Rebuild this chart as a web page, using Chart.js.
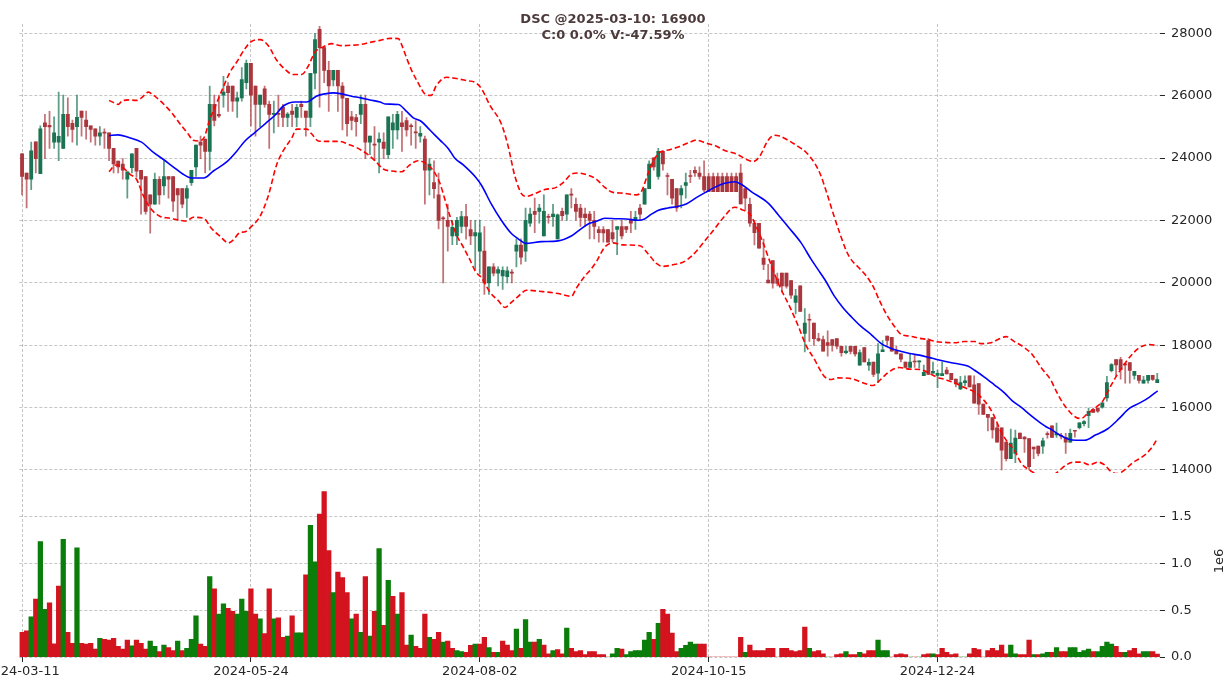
<!DOCTYPE html>
<html><head><meta charset="utf-8">
<script src="https://cdn.jsdelivr.net/npm/chart.js@4.4.1/dist/chart.umd.min.js"></script>
<style>html,body{margin:0;padding:0;background:#fff;overflow:hidden}#wrap{position:relative;width:1226px;height:690px}</style>
</head><body><div id="wrap"><canvas id="c" width="1226" height="690"></canvas></div>
<script>
const ticker = 'DSC';
const lastDate = '2025-03-10';
const tickIndex = [0, 50, 100, 150, 200];
const tickLabels = ['2024-03-11', '2024-05-24', '2024-08-02', '2024-10-15', '2024-12-24'];
const priceTicks = [14000, 16000, 18000, 20000, 22000, 24000, 26000, 28000];
const volumeTicks = [0, 500000, 1000000, 1500000];
const volumeUnitLabel = '1e6';

const opens = [24140,23520,23320,24520,23500,25127,25050,24510,24510,24310,
25404,25115,25010,25510,25220,25035,24940,24705,24830,24810,
24310,23900,23810,23320,23690,24310,23610,23410,22820,22520,
23320,23110,23410,23410,23020,23020,22715,23215,23720,24510,
24610,24215,25720,25400,26020,26313,26313,25825,25930,26420,
27040,26313,25720,26220,25720,25400,25430,25630,25300,25510,
25300,25720,25510,25300,26720,28130,27540,26815,26510,26815,
26313,25920,25325,25300,25404,25720,24510,24430,24510,24510,
24110,24900,24900,25127,25205,25030,24830,24700,24610,23610,
23215,22820,22080,22000,21500,21500,21805,22120,21710,21500,
21015,21015,20000,20510,20310,20220,20200,20330,21015,21210,
21015,21910,22290,22290,21500,22120,22120,21410,22290,22200,
22840,22520,22400,22200,22200,22000,21710,21710,21710,21610,
21710,21805,21805,22000,22000,22400,22520,23020,24010,23410,
24215,23430,23320,23020,22820,23120,23430,23610,23520,23410,
23410,23410,23410,23410,23410,23410,23410,23520,23020,22520,
21910,21910,20790,20090,20710,20130,20310,20310,20070,19370,
19900,18380,18820,18710,18210,18180,18080,18180,18210,17960,
17760,17960,17960,17360,17920,17360,17460,17100,17790,18290,
18250,17810,17720,17460,17290,17480,17460,17020,18150,17100,
17030,17020,17200,17100,16910,16600,16800,17020,16730,16770,
16110,15780,15680,15350,15350,14890,14360,14530,15180,15050,
15000,14730,14760,14760,15150,15410,15120,15100,15040,14890,
15260,15350,15480,15740,15940,15980,16010,16310,17180,17540,
17540,17390,17440,17030,17030,16780,16870,17030,16800];

const highs = [24150,23520,24510,24520,25035,25404,25500,25325,26115,26020,
25930,25220,26020,25510,25510,25035,24940,25010,24940,24810,
24310,23900,23980,23560,24140,24310,23610,23410,22820,23520,
23410,23915,23410,23410,23020,23020,23120,23610,24415,24705,
24610,26313,26020,26020,26620,26420,26313,26115,26900,27145,
27040,26313,26020,26313,25825,25825,26020,25720,25460,25720,
25720,25825,25510,26720,28000,28225,27540,27100,26815,26815,
26420,25920,25500,25404,26020,26020,24705,25010,24810,24810,
25325,25404,25500,25500,25300,25100,25205,25010,24705,23980,
23915,23520,22120,22520,22000,22100,22290,22520,22000,22000,
22000,21805,20510,20620,20510,20510,20510,20420,21410,21410,
22400,22400,22715,22520,22820,22200,22520,22200,22400,22820,
23020,22715,22520,22400,22290,22290,21805,21805,21710,22000,
21805,22000,21805,22290,22290,22520,23020,23915,24010,24310,
24215,23520,23320,23020,23120,23520,23610,23720,23720,23915,
23520,23520,23520,23520,23520,23520,23520,23810,23020,22715,
22000,21910,21400,20590,20710,20310,20310,20310,20070,19790,
19900,19170,19000,18710,18380,18290,18460,18180,18210,17960,
17960,17960,17960,17850,17920,17560,17460,18050,18150,18290,
18250,17960,17720,17460,17720,17680,17500,17360,18210,17460,
17200,17460,17290,17100,16910,17000,17020,17020,17020,16770,
16110,15780,15680,15480,15350,14890,15310,15280,15180,15070,
15000,14730,14760,15020,15220,15410,15500,15170,15170,15310,
15260,15510,15580,15980,15980,15980,16150,17000,17410,17540,
17610,17390,17440,17160,17030,17000,17030,17030,17100];

const lows = [22820,22400,22990,23520,23500,23980,24310,24310,23915,24310,
24705,24510,24415,24705,24610,24510,24415,24415,24310,23915,
23520,23520,23320,22715,23520,23390,22200,22200,21595,22520,
22520,22820,22715,22290,22000,22400,22100,23120,23410,23980,
23520,23610,25035,25300,25630,25500,25500,25300,25825,26220,
25035,24705,25010,25630,24310,24810,25010,25010,25010,25010,
25010,25300,24705,25010,26220,25630,26420,25500,26313,25500,
24900,24705,24900,24705,25100,23980,24110,23915,23520,23980,
23980,24310,24610,24215,24705,24415,24310,24510,22520,22820,
22715,21725,20000,21015,21225,21225,21600,21400,21225,20420,
20290,19630,19630,20220,19900,19790,20000,20000,20510,20600,
20685,21805,21610,21910,21500,21910,21805,21410,22000,22000,
22400,22000,21805,21805,21410,21410,21300,21300,21300,21300,
20900,21410,21610,21610,21710,22000,22520,23020,23610,23320,
23610,22820,22520,22290,22400,22715,23215,23410,23320,22920,
22920,22920,22920,22920,22920,22920,22920,22530,22320,21805,
21215,21110,20420,20000,19830,19900,19700,19830,19500,19000,
19080,17780,18120,17990,18120,17810,17650,17810,17880,17650,
17720,17720,17650,17360,17460,17190,16990,16800,17790,17990,
17810,17720,17460,17260,17290,17290,17260,17020,17060,17100,
16640,17020,17080,16890,16660,16570,16690,16660,16140,15780,
15780,15250,15020,14890,14000,14290,14360,14230,15000,14560,
14000,14360,14450,14530,15020,15040,15040,14990,14530,14890,
15050,15310,15410,15350,15840,15840,15980,16200,17140,17000,
16910,16780,16780,16910,16780,16780,16780,16870,16800];

const closes = [23410,23320,24230,23980,24940,25010,25000,24810,24700,25404,
25010,24920,25310,25300,25010,24920,24705,24810,24800,24310,
23810,23720,23610,23560,24140,23580,23320,22290,22520,23320,
22820,23410,23320,22620,22820,22520,23020,23610,24415,24415,
24215,25720,25205,25350,26115,26100,25825,25930,26520,27040,
26020,25720,26020,25720,25404,25420,25400,25300,25410,25404,
25630,25650,25300,26720,27800,27540,26815,26313,26815,26313,
25920,25100,25205,25170,25720,24510,24705,24415,24610,24310,
25325,25127,25404,25010,24900,25010,24810,24790,23610,23810,
23020,22000,22050,21805,21780,22000,22120,21805,21500,21610,
21600,20000,20510,20310,20420,20400,20380,20310,21210,20820,
22000,22200,22190,22400,22290,22100,22200,22180,22150,22820,
22810,22290,22100,22090,22000,21805,21610,21600,21300,21410,
21805,21500,21710,21910,22100,22200,23020,23810,23720,24215,
23810,23410,22715,22400,23020,23215,23410,23520,23410,22980,
22920,22920,22920,22920,22920,22920,22920,22530,22715,21910,
21610,21110,20590,20000,19990,19980,19900,19890,19600,19580,
19080,18710,18800,18210,18150,17810,17990,17990,17970,17760,
17810,17800,17720,17760,17460,17450,17060,17720,17850,18150,
17810,17720,17550,17290,17460,17460,17500,17130,17060,17160,
17100,17090,17080,16890,16760,16800,16860,16660,16140,16110,
15780,15680,15280,14890,14630,14360,14860,15020,15000,14990,
14100,14670,14530,14930,15130,15040,15170,15080,14890,15170,
15240,15510,15550,15880,15840,15880,16150,16800,17380,17370,
17210,17370,17190,17160,16870,16880,17030,16900,16900];

const volumes = [265000,280000,430000,620000,1235000,510000,580000,140000,760000,1260000,
265000,146000,1170000,146000,137000,146000,84000,200000,190000,180000,
200000,115000,84000,180000,120000,180000,146000,84000,170000,115000,
58000,128000,100000,70000,170000,70000,93000,190000,440000,137000,
115000,860000,730000,460000,570000,520000,490000,460000,620000,490000,
730000,460000,410000,250000,730000,410000,420000,210000,225000,440000,
260000,260000,880000,1410000,1020000,1530000,1770000,1140000,690000,910000,
850000,690000,410000,460000,265000,860000,225000,490000,1160000,340000,
820000,650000,460000,690000,128000,235000,115000,93000,460000,210000,
190000,265000,160000,170000,93000,70000,58000,50000,124000,137000,
137000,210000,100000,50000,50000,170000,128000,70000,300000,93000,
400000,160000,160000,190000,128000,35000,70000,80000,35000,310000,
93000,58000,70000,27000,58000,58000,27000,27000,0,35000,
93000,84000,27000,58000,70000,70000,180000,265000,190000,360000,
510000,460000,256000,58000,93000,124000,160000,137000,137000,137000,
0,0,0,0,0,0,0,210000,50000,128000,
70000,70000,70000,93000,93000,0,93000,93000,70000,58000,
70000,320000,93000,58000,70000,35000,0,0,27000,35000,
58000,27000,27000,50000,35000,70000,70000,180000,70000,70000,
0,27000,35000,27000,0,0,0,27000,35000,35000,
27000,93000,50000,27000,35000,0,0,35000,93000,80000,
0,70000,93000,70000,128000,35000,128000,35000,27000,27000,
180000,27000,27000,35000,50000,50000,100000,58000,58000,100000,
100000,50000,70000,84000,58000,58000,115000,160000,137000,115000,
50000,50000,70000,93000,35000,58000,58000,58000,30400];

// Bollinger band / 20-day MA values at [trading-day index, price]
const bbUpper = [[19.0,25850],[20.3,25760],[21.0,25720],[21.8,25825],[23.2,25865],[25.0,25850],[26.1,25930],[27.6,26115],[28.3,26060],[30.1,25850],[31.2,25690],[32.7,25455],[34.5,25100],[36.3,24770],[37.4,24570],[38.5,24550],[39.7,24640],[41.0,25230],[42.5,25760],[44.0,26290],[45.4,26750],[46.9,27080],[48.7,27510],[50.1,27740],[52.0,27800],[53.8,27605],[55.6,27145],[57.4,26855],[59.2,26680],[61.1,26680],[62.5,26945],[64.0,27400],[65.8,27565],[67.6,27670],[69.8,27605],[72.0,27620],[74.0,27645],[76.0,27710],[78.2,27775],[80.4,27840],[82.2,27830],[82.9,27645],[84.0,27210],[85.1,26815],[86.5,26420],[88.0,26060],[89.4,26010],[90.5,26325],[92.7,26590],[94.9,26550],[97.1,26485],[99.1,26420],[100.4,26220],[102.2,25695],[104.7,25100],[106.2,24375],[107.6,23455],[109.1,22860],[110.2,22770],[112.0,22860],[114.2,22990],[116.7,23060],[118.2,23215],[120.0,23480],[121.5,23520],[123.6,23455],[125.5,23320],[127.3,23060],[129.1,22900],[131.3,22875],[134.2,22820],[135.3,22925],[136.8,23520],[138.2,23980],[139.3,24180],[141.5,24270],[143.7,24375],[145.9,24510],[147.3,24575],[149.4,24480],[151.3,24405],[153.5,24245],[156.4,24110],[157.9,23980],[159.7,23890],[161.1,24045],[163.0,24575],[164.4,24730],[165.5,24705],[167.3,24575],[169.5,24375],[171.3,24180],[173.1,23850],[174.4,23480],[175.7,22925],[177.1,22270],[178.6,21610],[180.1,21015],[181.1,20750],[182.6,20515],[184.4,20225],[185.9,19890],[187.3,19435],[188.8,19000],[190.6,18600],[192.1,18340],[193.9,18290],[196.1,18220],[197.9,18180],[199.6,18115],[201.5,18090],[203.7,18075],[205.9,18115],[208.1,18115],[209.5,18050],[211.7,18075],[213.2,18180],[215.0,18275],[216.8,18115],[219.0,17920],[220.8,17680],[222.6,17285],[224.7,16890],[225.9,16535],[227.4,16140],[228.8,15875],[230.3,15680],[231.4,15650],[232.8,15810],[234.6,16005],[236.1,16205],[237.5,16600],[239.0,16990],[240.8,17390],[242.6,17720],[244.1,17920],[246.3,18020],[248.1,17985]];

const bbMid = [[19.0,24720],[21.0,24745],[23.2,24665],[26.1,24510],[28.7,24180],[30.9,23955],[33.0,23720],[35.2,23480],[37.0,23360],[39.7,23360],[41.8,23585],[44.7,23875],[46.9,24220],[48.7,24550],[50.9,24825],[53.1,25100],[55.2,25365],[57.1,25670],[59.6,25800],[62.2,25800],[64.3,25985],[66.2,26060],[68.0,26090],[69.8,26060],[72.0,25985],[74.0,25930],[76.0,25865],[78.2,25800],[79.3,25735],[82.2,25720],[84.0,25495],[85.4,25300],[87.3,25165],[89.1,24900],[91.3,24575],[93.1,24310],[94.5,24005],[96.4,23780],[99.1,23385],[100.4,23120],[102.5,22530],[104.7,22005],[106.9,21580],[108.4,21410],[110.0,21265],[113.5,21320],[117.1,21345],[120.0,21500],[122.2,21740],[124.0,21910],[125.5,21975],[127.3,22070],[129.8,22055],[132.0,22045],[134.6,22005],[136.0,22045],[137.5,22200],[138.9,22320],[141.1,22400],[142.9,22440],[145.1,22530],[147.3,22730],[149.3,22900],[151.3,23060],[153.5,23190],[155.7,23240],[157.1,23160],[159.3,22925],[163.0,22555],[165.1,22200],[167.3,21805],[170.2,21280],[172.4,20750],[174.4,20315],[175.7,20025],[177.5,19565],[179.3,19210],[181.2,18905],[183.3,18600],[185.5,18340],[187.7,18050],[189.5,17920],[191.7,17810],[193.9,17730],[196.1,17680],[198.3,17600],[199.6,17550],[201.5,17485],[203.7,17420],[206.6,17330],[208.1,17195],[210.3,16970],[212.4,16730],[214.6,16470],[216.4,16205],[218.3,16005],[220.1,15780],[221.9,15570],[223.7,15385],[224.7,15310],[226.6,15125],[228.5,14990],[230.3,14950],[232.1,14950],[234.6,15125],[237.2,15320],[239.7,15650],[241.9,15970],[244.1,16140],[246.3,16335],[248.1,16535]];

const bbLower = [[19.0,23560],[20.5,23780],[22.0,23700],[23.6,23480],[25.0,23320],[26.5,22795],[28.0,22400],[30.1,22135],[32.3,22070],[34.5,22005],[35.9,21980],[37.4,22100],[39.7,22070],[41.4,21740],[43.2,21500],[45.1,21280],[46.1,21370],[47.6,21610],[48.7,21635],[50.1,21805],[52.0,22135],[53.8,22795],[55.6,23780],[57.1,24245],[58.9,24640],[60.0,24930],[62.2,24930],[63.3,24770],[64.7,24550],[66.9,24535],[69.4,24535],[71.3,24440],[73.1,24335],[75.3,24140],[77.1,23915],[78.9,23650],[80.7,23585],[82.9,23560],[84.7,23780],[86.5,23915],[88.0,23850],[89.1,23720],[90.2,23520],[91.3,23190],[92.4,22660],[93.5,22135],[94.9,21540],[96.4,21145],[97.8,20750],[99.1,20355],[100.4,20160],[102.2,19700],[104.0,19435],[105.5,19210],[106.9,19370],[108.4,19565],[110.2,19760],[113.5,19720],[117.1,19655],[120.0,19565],[121.1,19830],[123.0,20225],[124.2,20420],[125.5,20685],[127.3,21145],[129.1,21280],[131.3,21215],[135.0,21190],[136.8,20925],[138.6,20620],[140.0,20525],[142.2,20580],[144.4,20660],[146.2,20845],[147.7,21080],[149.3,21370],[151.0,21675],[153.1,22070],[155.7,22425],[157.5,22330],[159.0,22200],[160.4,21805],[161.9,21280],[163.7,20550],[165.5,19890],[167.7,19235],[169.5,18640],[171.3,17985],[173.2,17520],[174.4,17190],[175.3,16990],[176.8,16900],[178.2,16950],[181.2,16925],[183.7,16795],[185.9,16705],[187.3,16860],[189.2,17125],[191.7,17285],[193.9,17230],[196.1,17220],[197.9,17125],[199.6,16990],[201.5,16900],[203.7,16795],[205.9,16640],[208.1,16495],[210.3,16205],[212.1,15810],[213.9,15215],[215.3,14890],[216.8,14625],[218.2,14230],[220.0,14000],[222.0,13850],[224.0,13800],[225.9,13895],[228.1,14160],[229.9,14250],[231.4,14250],[233.2,14160],[235.0,14250],[236.5,14160],[237.9,13945],[239.4,13880],[240.9,14000],[242.6,14230],[244.1,14360],[245.6,14520],[247.0,14755],[248.1,15020]];

// ---------- build ----------
const N = closes.length;
const idx = closes.map((_, i) => i);
const UP_BODY = '#1a7353', DN_BODY = '#a9373d';
const UP_WICK = 'rgba(26,115,83,0.7)', DN_WICK = 'rgba(169,55,61,0.7)';
const VOL_UP = '#0a7d0a', VOL_DN = '#d3131e';
const isUp = i => closes[i] > opens[i];

const chg = closes[N - 1] - closes[N - 2];
const chgPct = (chg / closes[N - 2] * 100).toFixed(1);
const volPct = ((volumes[N - 1] / volumes[N - 2] - 1) * 100).toFixed(2);
const title1 = `${ticker} @${lastDate}: ${closes[N - 1]}`;
const title2 = `C:${chg} ${chgPct}% V:${volPct}%`;

Chart.defaults.font.family = '"DejaVu Sans", sans-serif';
Chart.defaults.font.size = 13;
Chart.defaults.color = '#262626';

const GRID = 'rgba(150,150,150,0.8)';
const grid = { color: GRID, lineWidth: 0.7, drawTicks: true, tickLength: 5, tickColor: '#262626', tickWidth: 1, tickBorderDash: [], offset: false };
const border = { display: false, dash: [3, 2] };

const toPts = arr => arr.map(([x, y]) => ({ x, y }));
const lineDs = (arr, color, dash) => ({
  type: 'line', data: toPts(arr), borderColor: color, borderWidth: 1.6, borderDash: dash,
  pointRadius: 0, yAxisID: 'y', order: 0, cubicInterpolationMode: 'monotone', fill: false
});

const textPlugin = {
  id: 'figText',
  afterDraw(chart) {
    const ctx = chart.ctx;
    ctx.save();
    ctx.font = 'bold 13px "DejaVu Sans", sans-serif';
    ctx.fillStyle = '#4d3b3b';
    ctx.textAlign = 'center';
    ctx.textBaseline = 'middle';
    ctx.fillText(title1, 613, 20);
    ctx.fillText(title2, 613, 36);
    // volume axis unit label, rotated like a matplotlib ylabel
    const yv = chart.scales.yv;
    ctx.font = '13px "DejaVu Sans", sans-serif';
    ctx.fillStyle = '#262626';
    ctx.translate(1220, (yv.top + yv.bottom) / 2 - 4);
    ctx.rotate(-Math.PI / 2);
    ctx.fillText(volumeUnitLabel, 0, 0);
    ctx.restore();
  }
};

new Chart(document.getElementById('c'), {
  type: 'bar',
  data: {
    datasets: [
      lineDs(bbUpper, '#ff0000', [5.5, 3]),
      lineDs(bbLower, '#ff0000', [5.5, 3]),
      lineDs(bbMid, '#0000ff', []),
      {
        type: 'bar', data: idx.map(i => ({ x: i, y: [Math.min(opens[i], closes[i]), Math.max(opens[i], closes[i])] })),
        backgroundColor: idx.map(i => isUp(i) ? UP_BODY : DN_BODY), barThickness: 3.2, grouped: false,
        minBarLength: 1, yAxisID: 'y', order: 1, borderWidth: 0
      },
      {
        type: 'bar', data: idx.map(i => ({ x: i, y: [lows[i], highs[i]] })),
        backgroundColor: idx.map(i => isUp(i) ? UP_WICK : DN_WICK), barThickness: 1.1, grouped: false,
        yAxisID: 'y', order: 2, borderWidth: 0
      },
      {
        type: 'bar', data: idx.map(i => ({ x: i, y: volumes[i] })),
        backgroundColor: idx.map(i => (i > 0 && closes[i] > closes[i - 1]) ? VOL_UP : VOL_DN),
        barThickness: 4.6, grouped: false, yAxisID: 'yv', order: 3, borderWidth: 0
      }
    ]
  },
  options: {
    responsive: false, animation: false, events: [],
    layout: { padding: { left: 19.3, top: 24, right: 0, bottom: 0 } },
    plugins: { legend: { display: false }, tooltip: { enabled: false } },
    scales: {
      x: {
        type: 'linear', min: -0.6, max: 248.6, offset: false,
        afterBuildTicks: s => { s.ticks = tickIndex.map(v => ({ value: v })); },
        afterFit: s => { s.paddingLeft = 0; s.paddingRight = 0; s.height = 33; },
        ticks: { callback: v => { const k = tickIndex.indexOf(v); return k >= 0 ? tickLabels[k] : ''; }, maxRotation: 0, autoSkip: false, padding: 2, color: '#262626' },
        grid: grid, border: border
      },
      y: {
        type: 'linear', position: 'right', stack: 'panels', stackWeight: 449, min: 13900, max: 28300,
        afterBuildTicks: s => { s.ticks = priceTicks.map(v => ({ value: v })); },
        ticks: { autoSkip: false, padding: 6, color: '#262626', callback: v => String(v) },
        grid: grid, border: border,
        afterFit: s => { s.width = 66; }
      },
      yv: {
        type: 'linear', position: 'right', stack: 'panels', stackWeight: 184, min: 0, max: 1970000,
        afterBuildTicks: s => { s.ticks = volumeTicks.map(v => ({ value: v })); },
        ticks: { autoSkip: false, padding: 6, color: '#262626', callback: v => (v / 1e6).toFixed(1) },
        title: { display: false },
        grid: grid, border: border,
        afterFit: s => { s.width = 66; }
      }
    }
  },
  plugins: [textPlugin]
});
</script>
</body></html>
